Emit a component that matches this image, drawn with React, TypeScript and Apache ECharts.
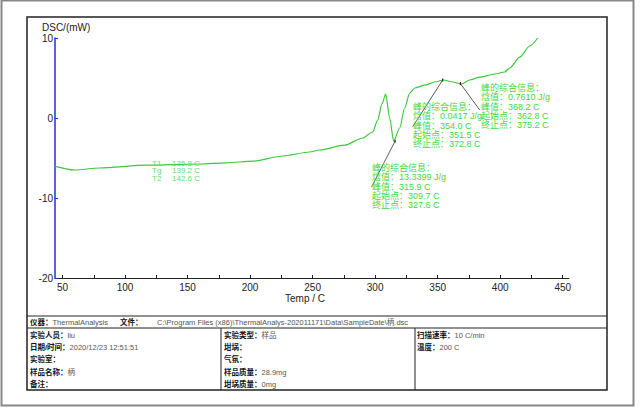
import React, { useEffect, useRef } from "react";
import * as echarts from "echarts";

// DSC curve (temperature in C, heat flow in mW)
const tempC = [44, 59.6, 79.6, 117.2, 159.6, 181.2, 202, 226, 247.6, 255.6, 275.6, 290, 298, 302, 305.5, 308.4, 311.6, 314.8, 319.6, 323.6, 327.6, 331.6, 339.6, 347.6, 354.8, 362, 369.2, 375.6, 383.6, 395.6, 403.6, 407.6, 415.6, 423.6, 430];
const dscMW = [-6.05, -6.5, -6.25, -5.9, -5.75, -5.6, -5.4, -4.75, -4.25, -4.0, -3.4, -2.5, -1.75, -0.25, 1.8, 3.0, 0.0, -2.9, -1.25, 1.25, 3.1, 3.75, 4.1, 4.5, 4.75, 4.5, 4.25, 4.75, 5.1, 5.5, 5.75, 6.25, 7.6, 9.0, 10.0];

// axis ticks
const xTickLabels = [50, 100, 150, 200, 250, 300, 350, 400, 450];
const xMinorTicks = [50, 75, 100, 125, 150, 175, 200, 225, 250, 275, 300, 325, 350, 375, 400, 425, 450];

// peak analysis annotations
const peakTemp = [315.9, 354.0, 368.2];
const peakValue = [-2.9, 4.75, 4.3];
const leaderFromTemp = [297.2, 330.0, 383.6];
const leaderFromValue = [-8.6, -1.1, 1.0];
const peakEnthalpy = ["13.3399", "0.0417", "0.7610"];
const peakOnset = ["309.7", "351.5", "362.8"];
const peakEnd = ["327.6", "372.8", "375.2"];

// glass transition
const tgNames = ["T1", "Tg", "T2"];
const tgValues = ["135.8 C", "139.2 C", "142.6 C"];

// info table
const leftCol = [["实验人员：", "liu"], ["日期/时间：", "2020/12/23 12:51:51"], ["实验室：", ""], ["样品名称：", "柄"], ["备注：", ""]];
const midCol = [["实验类型：", "样品"], ["坩埚：", ""], ["气氛：", ""], ["样品质量：", "28.9mg"], ["坩埚质量：", "0mg"]];
const rightCol = [["扫描速率：", "10 C/min"], ["温度：", "200 C"]];

const LATIN = '"Liberation Sans", Arial, sans-serif';
const CJK = '"Liberation Sans", "Noto Sans CJK SC", sans-serif';
const GREEN_TXT = "#3fd83f";

export default function App() {
  const ref = useRef<HTMLDivElement>(null);
  useEffect(() => {
    if (!ref.current) return;
    const chart = echarts.init(ref.current, null, { renderer: "svg" });

    const blockPos = [[372, 168], [413, 107], [481, 88]];
    const blocks = peakTemp.map((p, i) => ({
      type: "text",
      x: blockPos[i][0],
      y: blockPos[i][1] - 4.7,
      z: 10,
      style: {
        text: [
          "峰的综合信息：",
          "焓值：" + peakEnthalpy[i] + " J/g",
          "峰值：" + p.toFixed(1) + " C",
          "起始点：" + peakOnset[i] + " C",
          "终止点：" + peakEnd[i] + " C",
        ].join("\n"),
        fill: GREEN_TXT,
        font: "9px " + CJK,
        lineHeight: 9.3,
        verticalAlign: "top",
      },
    }));

    const tgTexts: any[] = [];
    tgNames.forEach((n, i) => {
      tgTexts.push({ type: "text", x: 152, y: 163 + i * 7.5, z: 10, style: { text: n, fill: "#66dd66", font: "8px " + LATIN, verticalAlign: "middle" } });
      tgTexts.push({ type: "text", x: 172, y: 163 + i * 7.5, z: 10, style: { text: tgValues[i], fill: "#66dd66", font: "8px " + LATIN, verticalAlign: "middle" } });
    });

    const rich = {
      b: { fontWeight: "bold", fill: "#111", fontSize: 7.5, fontFamily: CJK },
      v: { fill: "#555", fontSize: 7.5, fontFamily: CJK },
    };
    const rowText = (x: number, y: number, l: string, v: string) => ({
      type: "text",
      x,
      y,
      style: { text: "{b|" + l + "}" + (v ? "{v|" + v + "}" : ""), rich, verticalAlign: "middle" },
    });
    const tableTexts: any[] = [];
    const rowY = [335, 347, 359, 372, 384];
    leftCol.forEach((r, i) => tableTexts.push(rowText(30, rowY[i], r[0], r[1])));
    midCol.forEach((r, i) => tableTexts.push(rowText(224, rowY[i], r[0], r[1])));
    rightCol.forEach((r, i) => tableTexts.push(rowText(417, rowY[i], r[0], r[1])));
    tableTexts.push(rowText(30, 322, "仪器：", "ThermalAnalysis"));
    tableTexts.push(rowText(120, 322, "文件：", ""));
    tableTexts.push({
      type: "text",
      x: 157,
      y: 322,
      style: { text: "C:\\Program Files (x86)\\ThermalAnalys-202011171\\Data\\SampleDate\\柄.dsc", fill: "#555", font: "7.5px " + CJK, verticalAlign: "middle" },
    });

    const line = (x1: number, y1: number, x2: number, y2: number, stroke = "#222", w = 1) => ({
      type: "line",
      shape: { x1, y1, x2, y2 },
      style: { stroke, lineWidth: w },
    });

    chart.setOption({
      animation: false,
      backgroundColor: "#ffffff",
      grid: { left: 55, right: 71, top: 38, bottom: 135 },
      xAxis: {
        type: "value",
        min: 44,
        max: 455,
        axisLine: { onZero: false, lineStyle: { color: "#222", width: 1 } },
        axisTick: { show: true, inside: true, length: 3, customValues: xMinorTicks, lineStyle: { color: "#222" } },
        axisLabel: { customValues: xTickLabels, margin: 4, fontSize: 10, color: "#222", fontFamily: LATIN },
        splitLine: { show: false },
      },
      yAxis: {
        type: "value",
        min: -20,
        max: 10,
        interval: 10,
        axisLine: { show: true, lineStyle: { color: "#2233cc", width: 1.5 } },
        axisTick: { show: true, inside: true, length: 3, lineStyle: { color: "#2233cc" } },
        axisLabel: { margin: 2, fontSize: 10, color: "#222", fontFamily: LATIN },
        splitLine: { show: false },
      },
      series: [
        {
          type: "line",
          data: tempC.map((t, i) => [t, dscMW[i]]),
          showSymbol: false,
          smooth: 0.25,
          smoothMonotone: "x",
          lineStyle: { color: "#3cc83c", width: 1.2 },
          markLine: {
            silent: true,
            symbol: ["none", "none"],
            label: { show: false },
            lineStyle: { color: "#333", width: 0.8, type: "solid" },
            data: peakTemp.map((p, i) => [
              { coord: [leaderFromTemp[i], leaderFromValue[i]] },
              { coord: [p, peakValue[i]] },
            ]),
          },
          markPoint: {
            silent: true,
            symbol: "rect",
            symbolSize: [1.2, 3],
            itemStyle: { color: "#222" },
            label: { show: false },
            data: peakTemp.map((p, i) => ({ coord: [p, peakValue[i]] })),
          },
        },
      ],
      graphic: [
        { type: "rect", shape: { x: 1.5, y: 0.5, width: 632, height: 405 }, style: { fill: "none", stroke: "#888", lineWidth: 2 } },
        { type: "rect", shape: { x: 27, y: 17, width: 580, height: 373 }, style: { fill: "none", stroke: "#222", lineWidth: 1.5 } },
        line(27, 316, 607, 316),
        line(27, 328, 607, 328),
        line(221, 328, 221, 390),
        line(415, 328, 415, 390),
        { type: "text", x: 42, y: 27.5, style: { text: "DSC/(mW)", fill: "#222", font: "10px " + LATIN, verticalAlign: "middle" } },
        { type: "text", x: 285, y: 298, style: { text: "Temp / C", fill: "#222", font: "10px " + LATIN, verticalAlign: "middle" } },
        ...tgTexts,
        ...blocks,
        ...tableTexts,
      ],
    });
    return () => chart.dispose();
  }, []);
  return (
    <div
      ref={ref}
      style={{ position: "fixed", left: 0, top: 0, width: 640, height: 413, background: "#fff" }}
    />
  );
}
